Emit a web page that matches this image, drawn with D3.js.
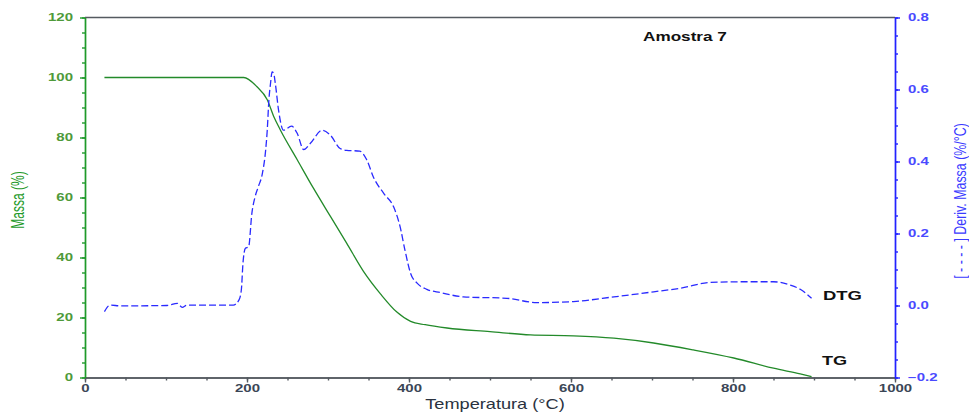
<!DOCTYPE html>
<html>
<head>
<meta charset="utf-8">
<script src="https://cdn.jsdelivr.net/npm/d3@7"></script>
<style>
  html, body { margin: 0; padding: 0; background: #fff; }
  svg { display: block; font-family: "Liberation Sans", Arial, sans-serif; }
</style>
</head>
<body>
<svg id="chart" width="969" height="412"></svg>
<script>
// Thermogravimetric run: mass loss (TG) and its derivative (DTG)
const tgTemp = [24, 60, 120, 196, 212, 225, 233, 241, 262, 282, 303, 323, 344, 365, 385, 402, 420, 447, 500, 550, 603, 653, 702, 751, 801, 850, 883, 897];
const tgMass = [100, 100, 100, 100, 97.0, 92.6, 87.0, 82.6, 72.6, 63.1, 53.7, 44.8, 35.3, 27.8, 21.8, 18.7, 17.6, 16.5, 15.3, 14.2, 13.9, 13.1, 11.5, 9.2, 6.5, 3.1, 1.2, 0.3];

const dtgTemp = [24, 31, 44, 101, 114, 120, 126, 183, 190, 193, 195, 198, 202, 206, 210, 214, 219, 223, 225, 227, 229, 231, 233, 235, 239, 245, 255, 262, 270, 278, 293, 303, 315, 323, 339, 348, 356, 369, 381, 389, 395, 402, 410, 422, 439, 467, 521, 558, 603, 653, 702, 735, 772, 817, 850, 870, 883, 897];
const dtgRate = [-0.017, 0.001, -0.001, 0.0, 0.006, -0.005, 0.001, 0.001, 0.015, 0.043, 0.117, 0.159, 0.163, 0.256, 0.302, 0.330, 0.367, 0.431, 0.487, 0.570, 0.616, 0.649, 0.644, 0.616, 0.542, 0.487, 0.498, 0.478, 0.433, 0.450, 0.487, 0.473, 0.436, 0.431, 0.429, 0.404, 0.357, 0.311, 0.274, 0.219, 0.154, 0.089, 0.062, 0.045, 0.036, 0.024, 0.020, 0.008, 0.011, 0.024, 0.038, 0.048, 0.064, 0.066, 0.066, 0.057, 0.045, 0.020];

const xTicks = [0, 200, 400, 600, 800, 1000];
const massTicks = [0, 20, 40, 60, 80, 100, 120];
const rateTicks = [-0.2, 0.0, 0.2, 0.4, 0.6, 0.8];

const svg = d3.select("#chart");
const plotLeft = 85, plotRight = 895, plotTop = 17.5, plotBottom = 377.5;

const x = d3.scaleLinear().domain([0, 1000]).range([plotLeft, plotRight]);
const yMass = d3.scaleLinear().domain([0, 120]).range([plotBottom, plotTop]);
const yRate = d3.scaleLinear().domain([-0.2, 0.8]).range([plotBottom, plotTop]);

const green = "#1f9a2a";
const blue = "#2222ff";
const grey = "#555a60";
const FONT = "Liberation Sans, Arial, sans-serif";

// widen glyphs horizontally around each label's own anchor x
function widen(sel, sx) {
  sel.each(function () {
    const t = d3.select(this);
    const ax = +t.attr("x") || 0;
    t.attr("transform", `translate(${ax},0) scale(${sx},1) translate(${-ax},0)`);
  });
}

// frame top
svg.append("line").attr("x1", plotLeft).attr("x2", plotRight).attr("y1", plotTop).attr("y2", plotTop)
  .attr("stroke", grey).attr("stroke-width", 1.3);

// bottom axis
const xAxis = svg.append("g").attr("transform", `translate(0,${plotBottom})`);
xAxis.append("g").call(d3.axisBottom(x).tickValues(d3.range(0, 1001, 50)).tickFormat("").tickSize(3).tickSizeOuter(0));
xAxis.append("g").call(d3.axisBottom(x).tickValues(xTicks).tickFormat(d3.format("d")).tickSize(5).tickSizeOuter(0).tickPadding(2.5));
xAxis.selectAll("path.domain, line").attr("stroke", grey).attr("stroke-width", 1.4);
xAxis.selectAll("text").attr("fill", "#3a4656").attr("font-size", 10).attr("font-weight", "bold")
  .attr("font-family", FONT).call(widen, 1.5);

// left axis (mass)
const yAxisL = svg.append("g").attr("transform", `translate(${plotLeft},0)`);
yAxisL.append("g").call(d3.axisLeft(yMass).tickValues(d3.range(0, 121, 5)).tickFormat("").tickSize(3).tickSizeOuter(0));
yAxisL.append("g").call(d3.axisLeft(yMass).tickValues(massTicks).tickFormat(d3.format("d")).tickSize(5).tickSizeOuter(0).tickPadding(7));
yAxisL.selectAll("path.domain, line").attr("stroke", green).attr("stroke-width", 1.4);
yAxisL.selectAll("text").attr("fill", "#4e9a3a").attr("font-size", 10).attr("font-weight", "bold")
  .attr("font-family", FONT).call(widen, 1.5);

// right axis (derivative)
const yAxisR = svg.append("g").attr("transform", `translate(${plotRight},0)`);
yAxisR.append("g").call(d3.axisRight(yRate).tickValues(d3.range(-4, 17).map(i => i * 0.05)).tickFormat("").tickSize(3).tickSizeOuter(0));
yAxisR.append("g").call(d3.axisRight(yRate).tickValues(rateTicks).tickFormat(d3.format(".1f")).tickSize(5).tickSizeOuter(0).tickPadding(8));
yAxisR.selectAll("path.domain, line").attr("stroke", blue).attr("stroke-width", 1.4);
yAxisR.selectAll("text").attr("fill", "#4a4aff").attr("font-size", 10).attr("font-weight", "bold")
  .attr("font-family", FONT).call(widen, 1.5);

// curves
const tgLine = d3.line().x((d, i) => x(tgTemp[i])).y(d => yMass(d)).curve(d3.curveMonotoneX);
svg.append("path").datum(tgMass).attr("d", tgLine)
  .attr("fill", "none").attr("stroke", "#238a2a").attr("stroke-width", 1.3);

const dtgLine = d3.line().x((d, i) => x(dtgTemp[i])).y(d => yRate(d)).curve(d3.curveMonotoneX);
svg.append("path").datum(dtgRate).attr("d", dtgLine)
  .attr("fill", "none").attr("stroke", "#2a2aff").attr("stroke-width", 1.3)
  .attr("stroke-dasharray", "7,3");

// labels
svg.append("text").attr("x", 643).attr("y", 41.5).text("Amostra 7")
  .attr("font-size", 13).attr("font-weight", "bold").attr("fill", "#111").call(widen, 1.32);
svg.append("text").attr("x", 823).attr("y", 300).text("DTG")
  .attr("font-size", 12.5).attr("font-weight", "bold").attr("fill", "#111").call(widen, 1.48);
svg.append("text").attr("x", 822).attr("y", 365.5).text("TG")
  .attr("font-size", 12.5).attr("font-weight", "bold").attr("fill", "#111").call(widen, 1.45);

svg.append("text").attr("x", 495).attr("y", 409).attr("text-anchor", "middle")
  .text("Temperatura (°C)").attr("font-size", 14).attr("fill", "#2a3240").call(widen, 1.3);

svg.append("text").attr("transform", "translate(17,200) scale(1.55,1) rotate(-90)")
  .attr("text-anchor", "middle").attr("dy", "0.36em")
  .text("Massa (%)").attr("font-size", 12).attr("fill", green);

svg.append("text").attr("transform", "translate(960.5,201) scale(1.3,1) rotate(-90)")
  .attr("text-anchor", "middle").attr("dy", "0.36em")
  .text("[ - - - - ] Deriv. Massa (%/°C)").attr("font-size", 12.4).attr("fill", "#3a3aff");
</script>
</body>
</html>
